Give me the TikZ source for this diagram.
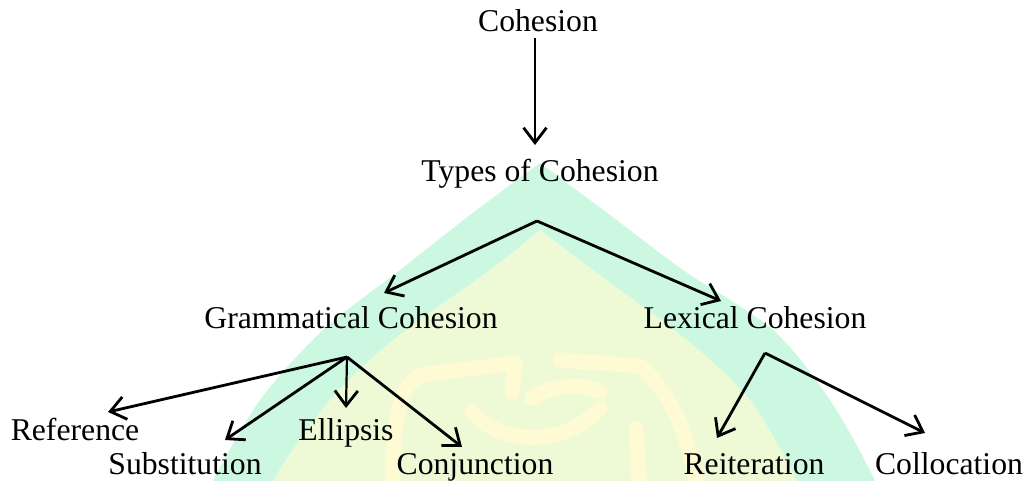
\documentclass[tikz,border=0pt]{standalone}
\usepackage{fontspec}
\setmainfont{Liberation Serif}
\usetikzlibrary{arrows.meta}
\definecolor{mint}{RGB}{204,248,226}
\definecolor{pale}{RGB}{238,250,214}
\definecolor{sand}{RGB}{254,251,212}
\tikzset{
  lbl/.style={anchor=base, inner sep=0pt, font=\fontsize{31.7}{38}\selectfont},
  arr/.style={draw=black, line width=2.8pt, -{Straight Barb[length=15pt,width=23pt,line width=2.8pt]}},
  pattern/.style={draw=sand, line width=15pt, line cap=round, line join=round}
}
\begin{document}
\begin{tikzpicture}[x=1pt,y=-1pt]
\useasboundingbox (0,0) rectangle (1028,481);
\begin{scope}
\clip (0,0) rectangle (1028,481);
% watermark background
\fill[mint] plot[smooth] coordinates {(195,530) (213,481) (260,400) (323,330) (400,270) (470,215) (540,163)}
  -- plot[smooth] coordinates {(540,163) (610,215) (683,270) (773,330) (830,400) (875,481) (890,530)} -- cycle;
\fill[pale] plot[smooth] coordinates {(262,530) (273,481) (330,400) (393,340) (490,270) (540,230)}
  -- plot[smooth] coordinates {(540,230) (593,270) (687,340) (750,400) (797,481) (810,530)} -- cycle;
\draw[pattern] (392,495) .. controls (392,420) and (400,385) .. (420,375) -- (515,363) -- (512,392);
\draw[pattern] (560,360) -- (640,366) .. controls (668,392) and (688,425) .. (698,495);
\draw[pattern] (472,412) .. controls (500,445) and (565,448) .. (600,408);
\draw[pattern] (532,398) .. controls (555,385) and (580,382) .. (600,392);
\draw[pattern] (636,428) -- (640,495);
\end{scope}

% nodes
\node[lbl] (coh) at (538,32) {Cohesion};
\node[lbl] (types) at (540,182) {Types of Cohesion};
\node[lbl] (gram) at (351,328) {Grammatical Cohesion};
\node[lbl] (lex) at (755,328) {Lexical Cohesion};
\node[lbl] (ref) at (75,440) {Reference};
\node[lbl] (ell) at (346,440) {Ellipsis};
\node[lbl] (sub) at (185,474) {Substitution};
\node[lbl] (conj) at (475,474) {Conjunction};
\node[lbl] (reit) at (754,474) {Reiteration};
\node[lbl] (coll) at (949,474) {Collocation};

% branch points and arrow tips
\coordinate (cohOut) at (535,38);
\coordinate (typesIn) at (535,145);
\coordinate (bT) at (537,221);
\coordinate (gramIn) at (384,293);
\coordinate (lexIn) at (721,301);
\coordinate (bG) at (347,357);
\coordinate (refIn) at (108,412);
\coordinate (subIn) at (225,440);
\coordinate (ellIn) at (346,408);
\coordinate (conjIn) at (462,447);
\coordinate (bL) at (765,353);
\coordinate (reitIn) at (717,438);
\coordinate (collIn) at (925,433);

% connectors
\draw[arr] (cohOut) -- (typesIn);
\draw[arr] (bT) -- (gramIn);
\draw[arr] (bT) -- (lexIn);
\draw[arr] (bG) -- (refIn);
\draw[arr] (bG) -- (subIn);
\draw[arr, line width=2.2pt] (bG) -- (ellIn);
\draw[arr] (bG) -- (conjIn);
\draw[arr] (bL) -- (reitIn);
\draw[arr] (bL) -- (collIn);
\end{tikzpicture}
\end{document}
